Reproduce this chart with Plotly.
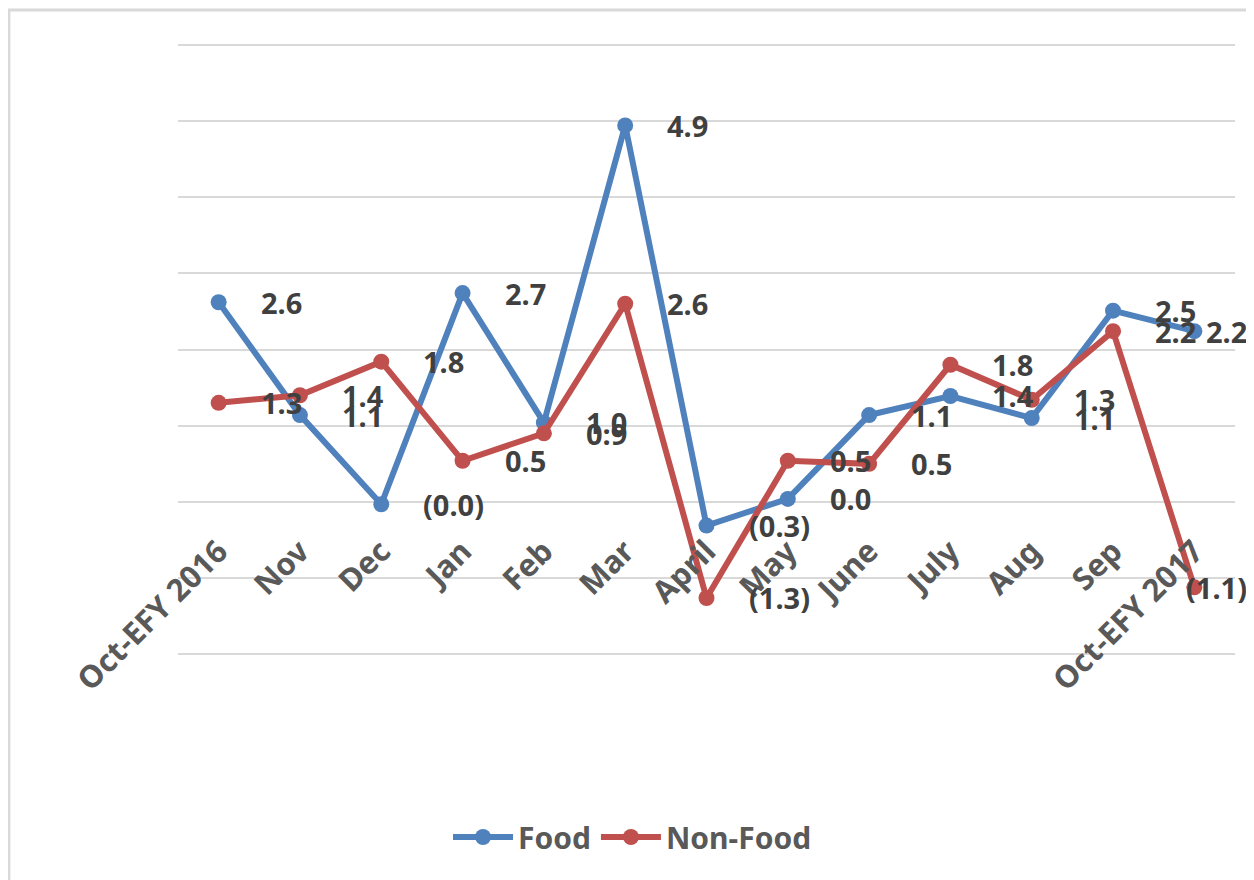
import plotly.graph_objects as go

categories = ["Oct-EFY 2016", "Nov", "Dec", "Jan", "Feb", "Mar", "April", "May",
              "June", "July", "Aug", "Sep", "Oct-EFY 2017"]
food = [2.62, 1.14, -0.03, 2.74, 1.04, 4.94, -0.31, 0.04, 1.14, 1.39, 1.10, 2.51, 2.24]
non_food = [1.30, 1.40, 1.84, 0.54, 0.90, 2.60, -1.26, 0.54, 0.50, 1.80, 1.34, 2.24, -1.12]

BLUE = "#4F81BD"
RED = "#C0504D"
FONT = "Noto Sans"
Y_MIN, Y_MAX = -2.1, 6.1


def fmt(v):
    return f"({abs(v):.1f})" if v < 0 else f"{v:.1f}"


fig = go.Figure()
for name, vals, col in [("Food", food, BLUE), ("Non-Food", non_food, RED)]:
    fig.add_trace(go.Scatter(
        x=categories, y=vals, name=name, mode="lines+markers",
        line=dict(color=col, width=6),
        marker=dict(color=col, size=16),
    ))

annotations = []
for vals in (food, non_food):
    for i, (c, v) in enumerate(zip(categories, vals)):
        last = i == len(categories) - 1
        annotations.append(dict(
            x=c, y=v, xref="x", yref="y", text=f"<b>{fmt(v)}</b>",
            showarrow=False, xanchor="right" if last else "left",
            yanchor="middle", xshift=55 if last else 40,
            font=dict(family=FONT, size=29, color="#404040"),
        ))

fig.update_layout(
    width=1254, height=880,
    margin=dict(l=170, r=27, t=29, b=226),
    paper_bgcolor="white", plot_bgcolor="white",
    showlegend=True,
    legend=dict(orientation="h", x=0.43, xanchor="center", y=-0.28, yanchor="middle",
                font=dict(family=FONT, size=30, color="#595959", weight="bold"),
                itemwidth=60),
    annotations=annotations,
    shapes=[dict(type="rect", xref="paper", yref="paper",
                 x0=-0.16, x1=1.2, y0=-0.6, y1=1.0432,
                 line=dict(color="#D9D9D9", width=3), layer="below")],
)
fig.update_xaxes(
    type="category", range=[-0.5, 12.5], anchor="free",
    position=(0 - Y_MIN) / (Y_MAX - Y_MIN),
    showgrid=False, showline=False, zeroline=False, ticks="",
    tickangle=-45, ticklabelstandoff=24,
    tickfont=dict(family=FONT, size=31, color="#595959", weight="bold"),
)
fig.update_yaxes(
    range=[Y_MIN, Y_MAX], tickvals=[-2, -1, 0, 1, 2, 3, 4, 5, 6],
    showticklabels=False, showgrid=True,
    gridcolor="#D9D9D9", gridwidth=2, zeroline=False, showline=False,
)

fig.write_html("out.html")
